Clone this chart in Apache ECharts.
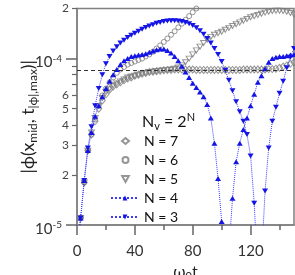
<!DOCTYPE html>
<html><head><meta charset="utf-8">
<script src="https://cdn.jsdelivr.net/npm/echarts@6/dist/echarts.min.js"></script>
<style>html,body{margin:0;padding:0;background:#fff}#c{width:295px;height:275px}</style>
</head><body><div id="c"></div>
<script>
// time samples (omega_0 t)
const T = [0,2.5,5,7.5,10,12.5,15,17.5,20,22.5,
  25,27.5,30,32.5,35,37.5,40,42.5,45,47.5,
  50,52.5,55,57.5,60,62.5,65,67.5,70,72.5,
  75,77.5,80,82.5,85,87.5,90,92.5,95,97.5,
  100,102.5,105,107.5,110,112.5,115,117.5,120,122.5,
  125,127.5,130,132.5,135,137.5,140,142.5,145,147.5,150];

const N7 = [7e-6,1.1e-5,1.8e-5,2.8e-5,3.5e-5,4.2e-5,5.0e-5,5.6e-5,6.1e-5,6.5e-5,
  6.8e-5,7.0e-5,7.2e-5,7.4e-5,7.6e-5,7.7e-5,7.9e-5,8.0e-5,8.1e-5,8.2e-5,
  8.3e-5,8.35e-5,8.4e-5,8.45e-5,8.5e-5,8.55e-5,8.55e-5,8.6e-5,8.6e-5,8.6e-5,
  8.6e-5,8.6e-5,8.6e-5,8.55e-5,8.55e-5,8.55e-5,8.55e-5,8.55e-5,8.55e-5,8.55e-5,
  8.55e-5,8.55e-5,8.55e-5,8.55e-5,8.55e-5,8.55e-5,8.6e-5,8.6e-5,8.6e-5,8.6e-5,
  8.6e-5,8.6e-5,8.6e-5,8.65e-5,8.65e-5,8.7e-5,8.8e-5,8.95e-5,9.1e-5,9.3e-5,9.5e-5];

const N6 = [7e-6,1.1e-5,1.8e-5,2.8e-5,3.5e-5,4.3e-5,5.2e-5,6.0e-5,6.6e-5,7.2e-5,
  7.7e-5,8.2e-5,8.6e-5,8.9e-5,9.2e-5,9.4e-5,9.6e-5,9.8e-5,1.0e-4,1.03e-4,
  1.06e-4,1.1e-4,1.15e-4,1.2e-4,1.26e-4,1.32e-4,1.39e-4,1.46e-4,1.54e-4,1.62e-4,
  1.71e-4,1.8e-4,1.9e-4,2.0e-4,2.1e-4,2.2e-4,null,null,null,null,
  null,null,null,null,null,null,null,null,null,null,
  null,null,null,null,null,null,null,null,null,null,null];

const N5 = [7e-6,1.1e-5,1.8e-5,2.8e-5,3.6e-5,4.4e-5,5.2e-5,5.8e-5,6.3e-5,6.6e-5,
  6.9e-5,7.1e-5,7.3e-5,7.5e-5,7.7e-5,7.8e-5,7.9e-5,8.0e-5,8.1e-5,8.2e-5,
  8.3e-5,8.35e-5,8.4e-5,8.45e-5,8.5e-5,8.55e-5,8.6e-5,8.7e-5,8.85e-5,9.1e-5,
  9.5e-5,1.0e-4,1.06e-4,1.12e-4,1.18e-4,1.24e-4,1.3e-4,1.35e-4,1.39e-4,1.42e-4,
  1.45e-4,1.49e-4,1.53e-4,1.57e-4,1.61e-4,1.65e-4,1.69e-4,1.73e-4,1.77e-4,1.8e-4,
  1.83e-4,1.86e-4,1.89e-4,1.91e-4,1.93e-4,1.94e-4,1.94e-4,1.93e-4,1.91e-4,1.88e-4,1.84e-4];

const N4 = [7e-6,1.1e-5,1.85e-5,2.8e-5,3.6e-5,4.5e-5,5.2e-5,5.9e-5,6.6e-5,7.3e-5,
  8.0e-5,8.6e-5,9.2e-5,9.7e-5,1.0e-4,1.03e-4,1.04e-4,1.05e-4,1.06e-4,1.07e-4,
  1.09e-4,1.11e-4,1.13e-4,1.14e-4,1.14e-4,1.12e-4,1.08e-4,1.03e-4,9.7e-5,9.0e-5,
  8.3e-5,7.7e-5,7.1e-5,6.7e-5,6.3e-5,5.9e-5,5.3e-5,4.4e-5,3.1e-5,1.9e-5,
  1.05e-5,4e-6,7e-6,1.45e-5,2.4e-5,3.1e-5,3.75e-5,4.4e-5,5.2e-5,6.1e-5,
  7.2e-5,7.9e-5,8.7e-5,9.5e-5,1.0e-4,1.02e-4,1.03e-4,1.03e-4,1.04e-4,1.05e-4,1.06e-4];

const N3 = [7e-6,1.1e-5,1.85e-5,2.9e-5,3.9e-5,5.2e-5,6.6e-5,8.0e-5,9.3e-5,1.03e-4,
  1.11e-4,1.18e-4,1.24e-4,1.29e-4,1.34e-4,1.38e-4,1.42e-4,1.46e-4,1.5e-4,1.54e-4,
  1.57e-4,1.6e-4,1.63e-4,1.65e-4,1.67e-4,1.68e-4,1.69e-4,1.69e-4,1.68e-4,1.67e-4,
  1.65e-4,1.62e-4,1.58e-4,1.53e-4,1.47e-4,1.4e-4,1.32e-4,1.24e-4,1.15e-4,1.06e-4,
  9.6e-5,8.5e-5,7.4e-5,6.4e-5,5.5e-5,4.8e-5,4.2e-5,3.5e-5,2.6e-5,1.35e-5,
  5e-6,6e-6,1.6e-5,2.9e-5,4.2e-5,5.1e-5,6.2e-5,7.3e-5,8.8e-5,1.02e-4,1.15e-4];

const SERIES_NAMES = ['N = 7','N = 6','N = 5','N = 4','N = 3'];
const X_MAJOR_TICKS = [0,40,80,120];
const X_MINOR_TICKS = [20,60,100,140];
const Y_DECADE_TICKS = [1e-5,1e-4];
const Y_LABELLED_TICKS = [2e-5,3e-5,4e-5,5e-5,6e-5,2e-4];
const Y_MINOR_TICKS = [7e-5,8e-5,9e-5];
const REF_LEVEL = 8.5e-5;
const X_MIN = 0, X_MAX = 150, Y_MIN = 1e-5, Y_MAX = 2e-4;

const FONT = 'Lato, "Open Sans", sans-serif';
const BLUE = '#1414e6';
const GRAY = '#7a7a7a';
const L = v => Math.log10(v);
const pts = arr => T.map((t,i) => arr[i] == null ? null : [t, L(arr[i])]).filter(p => p);

const chart = echarts.init(document.getElementById('c'), null, {renderer:'canvas'});
const downTri = 'path://M0,0L10,0L5,9Z';
const grayStyle = {color:'rgba(0,0,0,0)', borderColor:GRAY, borderWidth:1};
const legendText = {fontSize:14, color:'#111', fontFamily:FONT, lineHeight:14};

chart.setOption({
  animation:false,
  textStyle:{fontFamily:FONT},
  grid:{left:77, right:1, top:8.5, bottom:50, outerBoundsMode:'none', containLabel:false,
        show:true, borderColor:'#808080', borderWidth:1.5, backgroundColor:'transparent'},
  title:{
    text:'{a|N}{s|v}{a| = 2}{p|N}',
    left:137, top:107,
    textStyle:{fontFamily:FONT, fontWeight:'normal', rich:{
      a:{fontSize:16, color:'#111', lineHeight:20, fontFamily:FONT, fontWeight:'normal'},
      s:{fontSize:11, color:'#111', lineHeight:11, verticalAlign:'bottom', fontFamily:FONT, fontWeight:'normal'},
      p:{fontSize:11, color:'#111', lineHeight:11, verticalAlign:'top', fontFamily:FONT, fontWeight:'normal'}
    }}
  },
  legend:[{
    orient:'vertical', left:116, top:129, itemWidth:7, itemHeight:6, itemGap:5,
    data:SERIES_NAMES.slice(0,3),
    textStyle:Object.assign({padding:[0,0,0,10]}, legendText)
  },{
    orient:'vertical', left:105, top:186, itemWidth:28, itemHeight:6, itemGap:5,
    data:SERIES_NAMES.slice(3),
    textStyle:legendText
  }],
  xAxis:[{
    type:'value', min:X_MIN, max:X_MAX, position:'bottom',
    axisLine:{lineStyle:{color:'#808080', width:1.5}},
    axisTick:{customValues:X_MAJOR_TICKS, length:10, lineStyle:{color:'#666', width:1.5}},
    axisLabel:{customValues:X_MAJOR_TICKS, margin:19, fontSize:15, color:'#333', fontFamily:FONT},
    splitLine:{show:false},
    name:'{m|ω}{s|0}{m|t}', nameLocation:'middle', nameGap:35,
    nameTextStyle:{rich:{
      m:{fontSize:16, color:'#222', lineHeight:20, fontFamily:FONT},
      s:{fontSize:11, color:'#222', lineHeight:11, verticalAlign:'bottom', fontFamily:FONT}
    }}
  },{
    type:'value', min:X_MIN, max:X_MAX, position:'bottom',
    axisLine:{show:false},
    axisTick:{customValues:X_MINOR_TICKS, length:5, lineStyle:{color:'#666', width:1.5}},
    axisLabel:{show:false}, splitLine:{show:false}
  }],
  yAxis:[{
    type:'value', min:L(Y_MIN), max:L(Y_MAX), position:'left',
    axisLine:{lineStyle:{color:'#808080', width:1.5}},
    axisTick:{customValues:Y_LABELLED_TICKS.concat(Y_MINOR_TICKS).map(L), length:5, lineStyle:{color:'#666', width:1.2}},
    axisLabel:{customValues:Y_LABELLED_TICKS.map(L), margin:8, fontSize:12, color:'#444', fontFamily:FONT,
      formatter:v => { const e = Math.floor(v + 1e-9); return String(Math.round(Math.pow(10, v - e))); }},
    splitLine:{show:false},
    name:'{m|\u007Cϕ(x}{s|mid}{m|, t}{s|\u007Cϕ\u007C,max}{m|)\u007C}', nameLocation:'middle', nameRotate:90, nameGap:38,
    nameTextStyle:{rich:{
      m:{fontSize:17.5, color:'#222', lineHeight:21, fontFamily:FONT},
      s:{fontSize:12, color:'#222', lineHeight:12, verticalAlign:'bottom', fontFamily:FONT}
    }}
  },{
    type:'value', min:L(Y_MIN), max:L(Y_MAX), position:'left',
    axisLine:{show:false},
    axisTick:{customValues:Y_DECADE_TICKS.map(L), length:11, lineStyle:{color:'#666', width:1.5}},
    axisLabel:{customValues:Y_DECADE_TICKS.map(L), margin:15, padding:[8,0,0,0],
      formatter:v => '{b|10}{s|' + Math.round(v) + '}',
      rich:{
        b:{fontSize:15, color:'#333', lineHeight:18, fontFamily:FONT},
        s:{fontSize:10, color:'#333', lineHeight:8, verticalAlign:'top', fontFamily:FONT}
      }},
    splitLine:{show:false}
  }],
  series:[
    {name:SERIES_NAMES[0], type:'scatter', data:pts(N7), symbol:'diamond', symbolSize:[6,7], itemStyle:grayStyle, clip:true,
     markLine:{silent:true, symbol:'none', label:{show:false}, lineStyle:{type:[4,3], color:'#333', width:1.2},
       data:[{yAxis:L(REF_LEVEL)}]}},
    {name:SERIES_NAMES[1], type:'scatter', data:pts(N6), symbol:'circle', symbolSize:5, itemStyle:grayStyle, clip:true},
    {name:SERIES_NAMES[2], type:'scatter', data:pts(N5), symbol:downTri, symbolSize:[6,5], itemStyle:grayStyle, clip:true},
    {name:SERIES_NAMES[3], type:'line', data:pts(N4), symbol:'triangle', symbolSize:[6,5], showAllSymbol:true, clip:true,
     itemStyle:{color:BLUE}, lineStyle:{color:'#3a3aff', width:1, type:'dotted'}},
    {name:SERIES_NAMES[4], type:'line', data:pts(N3), symbol:downTri, symbolSize:[6,5], showAllSymbol:true, clip:true,
     itemStyle:{color:BLUE}, lineStyle:{color:'#3a3aff', width:1, type:'dotted'}}
  ]
});
</script></body></html>
